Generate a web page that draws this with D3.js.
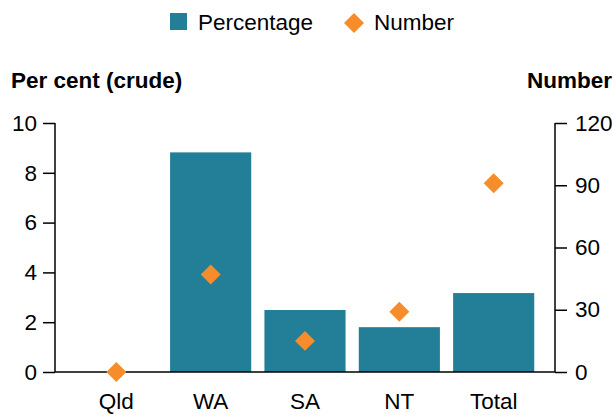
<!DOCTYPE html>
<html>
<head>
<meta charset="utf-8">
<script src="https://cdn.jsdelivr.net/npm/d3@7"></script>
<style>
  body { margin: 0; background: #fff; }
  svg { font-family: Arial, "Liberation Sans", sans-serif; }
</style>
</head>
<body>
<div class="grafico"></div>
<script>
// data
const categories = ["Qld", "WA", "SA", "NT", "Total"];
const percentage = [null, 8.82, 2.49, 1.8, 3.17];
const number = [0, 47, 15, 29, 91];
const leftTicks = [0, 2, 4, 6, 8, 10];
const rightTicks = [0, 30, 60, 90, 120];

const width = 613, height = 417;
const margin = { top: 123, right: 58, bottom: 45, left: 55 };
const barColor = "#237e97", dotColor = "#f68d2a";
const fs = 22.5;

let svg = d3.select(".grafico")
  .append("svg")
  .attr("width", width)
  .attr("height", height);

const x = d3.scaleBand()
  .domain(categories)
  .range([margin.left, width - margin.right])
  .paddingInner(0.14)
  .paddingOuter(0.22);

const yL = d3.scaleLinear().domain([0, 10]).range([height - margin.bottom, margin.top]);
const yR = d3.scaleLinear().domain([0, 120]).range([height - margin.bottom, margin.top]);

// bars
svg.selectAll("rect.bar")
  .data(categories.map((c, i) => ({ c: c, v: percentage[i] })).filter(d => d.v != null))
  .enter().append("rect")
  .attr("class", "bar")
  .attr("x", d => x(d.c))
  .attr("y", d => yL(d.v))
  .attr("width", x.bandwidth())
  .attr("height", d => yL(0) - yL(d.v))
  .attr("fill", barColor);

// left axis
svg.append("g")
  .attr("transform", "translate(" + margin.left + ",0)")
  .call(d3.axisLeft(yL).tickValues(leftTicks).tickSize(12).tickPadding(6))
  .call(g => g.select(".domain").attr("d", "M0," + yL(10) + "V" + yL(0)));

// right axis
svg.append("g")
  .attr("transform", "translate(" + (width - margin.right) + ",0)")
  .call(d3.axisRight(yR).tickValues(rightTicks).tickSize(12).tickPadding(8))
  .call(g => g.select(".domain").attr("d", "M0," + yR(120) + "V" + yR(0)));

// x axis
svg.append("g")
  .attr("transform", "translate(0," + yL(0) + ")")
  .call(d3.axisBottom(x).tickSize(0).tickPadding(21))
  .call(g => g.select(".domain").attr("d", "M" + margin.left + ",0H" + (width - margin.right)));

svg.selectAll(".tick text")
  .attr("font-size", fs)
  .attr("font-family", "Arial, 'Liberation Sans', sans-serif")
  .attr("fill", "#000");
svg.selectAll(".domain, .tick line").attr("stroke", "#000").attr("stroke-width", 1.5);

// diamonds
const diamond = d3.symbol().type(d3.symbolSquare).size(200);
svg.selectAll("path.dot")
  .data(categories.map((c, i) => ({ c: c, v: number[i] })))
  .enter().append("path")
  .attr("class", "dot")
  .attr("d", diamond)
  .attr("transform", d => "translate(" + (x(d.c) + x.bandwidth() / 2) + "," + yR(d.v) + ") rotate(45)")
  .attr("fill", dotColor);

// axis titles
svg.append("text")
  .attr("x", 11).attr("y", 88)
  .attr("font-size", fs).attr("font-weight", "bold")
  .text("Per cent (crude)");
svg.append("text")
  .attr("x", 612).attr("y", 88)
  .attr("text-anchor", "end")
  .attr("font-size", fs).attr("font-weight", "bold")
  .text("Number");

// legend
const legend = svg.append("g");
legend.append("rect")
  .attr("x", 170).attr("y", 13).attr("width", 17).attr("height", 17)
  .attr("fill", barColor);
legend.append("text")
  .attr("x", 198).attr("y", 30).attr("font-size", fs)
  .text("Percentage");
legend.append("path")
  .attr("d", d3.symbol().type(d3.symbolSquare).size(200))
  .attr("transform", "translate(354,23) rotate(45)")
  .attr("fill", dotColor);
legend.append("text")
  .attr("x", 374).attr("y", 30).attr("font-size", fs)
  .text("Number");
</script>
</body>
</html>
